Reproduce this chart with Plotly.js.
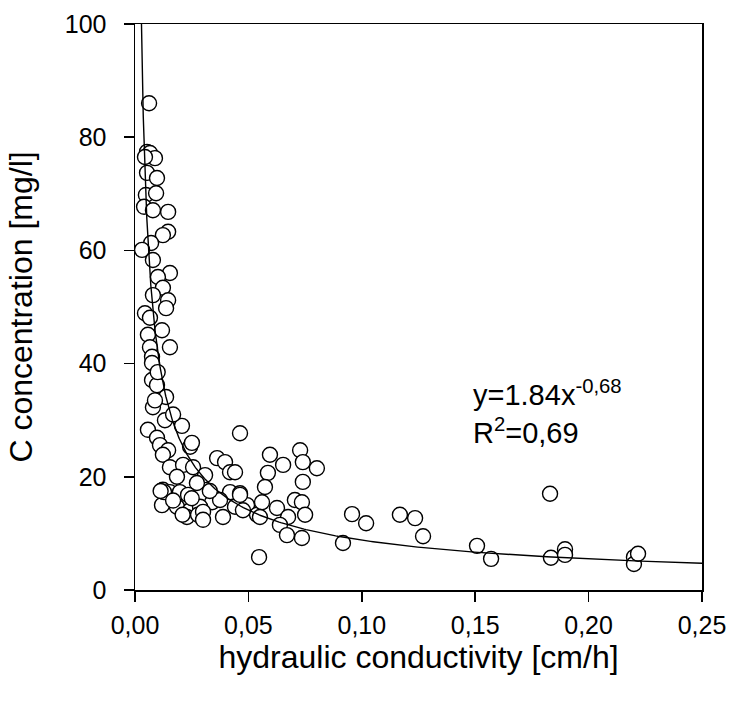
<!DOCTYPE html>
<html>
<head>
<meta charset="utf-8">
<script src="https://cdn.plot.ly/plotly-3.0.1.min.js"></script>
<style>html,body{margin:0;padding:0;background:#fff}#chart{width:731px;height:703px}</style>
</head>
<body>
<div id="chart"></div>
<script>
// Measured points: hydraulic conductivity [cm/h]
const conductivity = [
  0.0062,0.0053,0.0066,0.0088,0.0044,0.0053,0.0097,0.0048,0.0093,0.0040,
  0.0079,0.0146,0.0146,0.0123,0.0071,0.0031,0.0079,0.0154,0.0101,0.0123,
  0.0079,0.0146,0.0137,0.0044,0.0066,0.0119,0.0057,0.0154,0.0066,0.0075,
  0.0075,0.0097,0.0137,0.0079,0.0075,0.0132,0.0207,0.0057,0.0097,0.0110,
  0.0146,0.0243,0.0251,0.0123,0.0154,0.0212,0.0256,0.0362,0.0397,0.0419,
  0.0185,0.0309,0.0273,0.0123,0.0154,0.0198,0.0234,0.0419,0.0463,0.0340,
  0.0375,0.0119,0.0185,0.0243,0.0287,0.0441,0.0494,0.0229,0.0278,0.0388,
  0.0538,0.0463,0.0595,0.0728,0.0653,0.0740,0.0802,0.0586,0.0740,0.0573,
  0.0441,0.0463,0.0560,0.0705,0.0736,0.0626,0.0675,0.0750,0.0551,0.0639,
  0.0670,0.0736,0.0476,0.0547,0.0917,0.0957,0.1019,0.1168,0.1235,0.1270,
  0.1508,0.1570,0.1830,0.1834,0.1896,0.1896,0.2200,0.2200,0.2218,0.0128,
  0.0168,0.0300,0.0300,0.0210,0.0168,0.0113,0.0250,0.0330,0.0088,0.0100
];
// Measured points: C concentration [mg/l]
const concentration = [
  86.0,77.4,77.2,76.3,76.5,73.7,72.8,69.8,70.1,67.7,
  67.1,66.8,63.3,62.7,61.3,60.1,58.3,56.0,55.3,53.4,
  52.1,51.2,49.8,48.9,48.1,45.9,45.1,42.9,42.9,41.2,
  37.1,36.2,34.1,32.3,40.1,30.0,29.0,28.3,26.9,25.6,
  24.7,25.3,26.0,23.9,21.7,22.1,21.7,23.3,22.6,20.8,
  20.0,20.3,18.9,17.7,17.3,17.3,16.8,17.3,17.1,15.5,
  15.9,15.0,14.7,14.1,14.7,14.7,15.0,12.9,13.3,12.9,
  13.3,27.7,23.9,24.7,22.1,22.6,21.5,20.7,19.1,18.2,
  20.8,16.8,15.5,15.9,15.5,14.5,12.9,13.3,12.9,11.5,
  9.7,9.2,14.1,5.8,8.3,13.4,11.8,13.3,12.7,9.5,
  7.8,5.5,17.0,5.7,7.2,6.2,5.8,4.6,6.4,17.3,
  31.0,13.8,12.4,13.3,15.8,17.5,16.2,17.5,33.5,38.5
];
// Power-law fit shown on the chart: y = 1.84 x^-0.68
const fitA = 1.84;
const fitB = -0.68;
const fitX = [];
for (let i = 0; i <= 400; i++) {
  const t = i / 400;
  fitX.push(0.0026 * Math.pow(0.25 / 0.0026, t));
}
const fitY = fitX.map(x => fitA * Math.pow(x, fitB));

const xTicks = [0, 0.05, 0.10, 0.15, 0.20, 0.25];
const xTickText = ['0,00','0,05','0,10','0,15','0,20','0,25'];
const yTicks = [0, 20, 40, 60, 80, 100];

const font = 'Liberation Sans, Arial, sans-serif';

const traces = [
  {
    x: conductivity, y: concentration, type: 'scatter', mode: 'markers',
    marker: {size: 15, color: '#ffffff', line: {color: '#000000', width: 1.4}},
    hoverinfo: 'x+y'
  },
  {
    x: fitX, y: fitY, type: 'scatter', mode: 'lines',
    line: {color: '#000000', width: 1.4}, hoverinfo: 'skip'
  }
];

const layout = {
  width: 731, height: 703,
  margin: {l: 135, r: 29, t: 24, b: 113},
  paper_bgcolor: '#ffffff', plot_bgcolor: '#ffffff',
  showlegend: false,
  font: {family: font, color: '#000000', size: 25},
  xaxis: {
    range: [0, 0.25], tickvals: xTicks, ticktext: xTickText,
    showgrid: false, zeroline: false, showline: true, mirror: true,
    linecolor: '#000000', linewidth: 1.5,
    ticks: 'outside', ticklen: 10, tickwidth: 1.5, tickcolor: '#000000',
    tickfont: {family: font, size: 25}, ticklabelstandoff: 2,
    automargin: false,
    title: {text: 'hydraulic conductivity [cm/h]', font: {family: font, size: 32}, standoff: 8}
  },
  yaxis: {
    range: [0, 100], tickvals: yTicks,
    showgrid: false, zeroline: false, showline: true, mirror: true,
    linecolor: '#000000', linewidth: 1.5,
    ticks: 'outside', ticklen: 10, tickwidth: 1.5, tickcolor: '#000000',
    tickfont: {family: font, size: 25}, ticklabelstandoff: 12,
    automargin: false,
    title: {text: 'C concentration [mg/l]', font: {family: font, size: 32}, standoff: 22}
  },
  annotations: [
    {xref: 'paper', yref: 'paper', x: 0.592, y: 0.315, xanchor: 'left', yanchor: 'middle',
     align: 'left',
     text: 'y=1.84x<sup>-0,68</sup><br>R<sup>2</sup>=0,69', showarrow: false,
     font: {family: font, size: 29}}
  ]
};

Plotly.newPlot('chart', traces, layout, {displayModeBar: false, staticPlot: true});
</script>
</body>
</html>
